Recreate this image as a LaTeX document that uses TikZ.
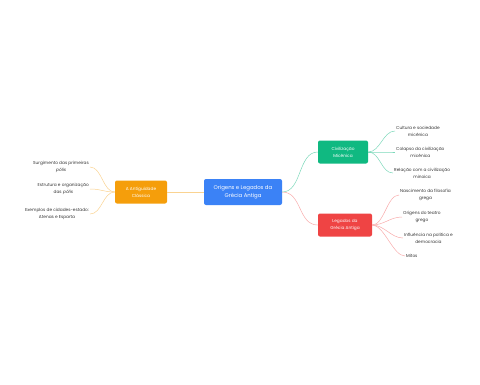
\documentclass[tikz,border=0pt]{standalone}
\usepackage{fontspec}
\setmainfont{Poppins}[AutoFakeSlant=0.2]
\usetikzlibrary{positioning}
\definecolor{rootblue}{HTML}{3B82F6}
\definecolor{classorange}{HTML}{F59E0B}
\definecolor{micgreen}{HTML}{10B981}
\definecolor{legred}{HTML}{EF4444}
\begin{document}
\begin{tikzpicture}[x=1bp, y=-1bp, font=\fontsize{4.3}{7}\selectfont,
  topicbox/.style={rounded corners=2pt, text=white, align=center, inner sep=1pt},
  leaf/.style={align=center, text=black!80, inner sep=1pt},
  link/.style={line width=0.5pt}]
\useasboundingbox (0,0) rectangle (480,384);
% main topics
\node[topicbox, fill=rootblue, minimum width=78bp, minimum height=26bp, font=\fontsize{5.4}{8}\selectfont] (root) at (243,192) {Origens e Legados da\\Grécia Antiga};
\node[topicbox, fill=classorange, minimum width=52bp, minimum height=23bp] (classic) at (141,192) {A Antiguidade\\Clássica};
\node[topicbox, fill=micgreen, minimum width=50bp, minimum height=23bp] (mic) at (343,152) {Civilização\\Micênica};
\node[topicbox, fill=legred, minimum width=54bp, minimum height=23bp] (leg) at (345,225) {Legados da\\Grécia Antiga};
% leaves on the left
\node[leaf, anchor=east] (polis) at (90,167) {Surgimento das primeiras\\\textit{pólis}};
\node[leaf, anchor=east] (estr) at (90,189) {Estrutura e organização\\das \textit{pólis}};
\node[leaf, anchor=east] (exem) at (90,214) {Exemplos de cidades-estado:\\Atenas e Esparta};
% leaves of Micênica
\node[leaf, anchor=west] (cult) at (395,131) {Cultura e sociedade\\micênica};
\node[leaf, anchor=west] (colap) at (395,152) {Colapso da civilização\\micênica};
\node[leaf, anchor=west] (minoi) at (393,173) {Relação com a civilização\\minoica};
% leaves of Legados
\node[leaf, anchor=west] (filo) at (399,195) {Nascimento da filosofia\\grega};
\node[leaf, anchor=west] (teatro) at (402,217) {Origens do teatro\\grego};
\node[leaf, anchor=west] (polit) at (403,238) {Influência na política e\\democracia};
\node[leaf, anchor=west] (mitos) at (405,256) {Mitos};
% connectors
\draw[link, classorange!45] (root.west) -- (classic.east);
\draw[link, micgreen!55] (root.east) .. controls +(20,0) and +(-20,0) .. (mic.west);
\draw[link, legred!45] (root.east) .. controls +(20,0) and +(-20,0) .. (leg.west);
\foreach \n in {polis,estr,exem}
  \draw[link, classorange!45] (classic.west) .. controls +(-12,0) and +(12,0) .. (\n.east);
\foreach \n in {cult,colap,minoi}
  \draw[link, micgreen!55] (mic.east) .. controls +(12,0) and +(-12,0) .. (\n.west);
\foreach \n in {filo,teatro,polit,mitos}
  \draw[link, legred!45] (leg.east) .. controls +(12,0) and +(-12,0) .. (\n.west);
\end{tikzpicture}
\end{document}
